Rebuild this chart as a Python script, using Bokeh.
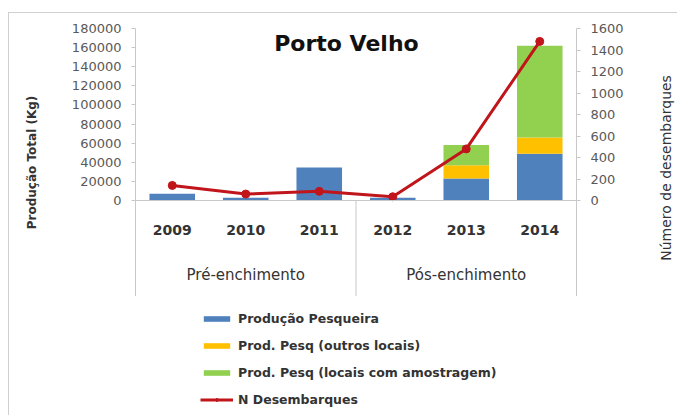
import math
from bokeh.plotting import figure
from bokeh.layouts import column, row
from bokeh.models import (FactorRange, Range1d, LinearAxis, FixedTicker, Legend, LegendItem,
                          Label, ColumnDataSource, NumeralTickFormatter)
from bokeh.core.properties import value
from bokeh.embed import file_html
from bokeh.resources import INLINE

# ---------------- data ----------------
years = ["2009", "2010", "2011", "2012", "2013", "2014"]
phases = ["Pré-enchimento", "Pré-enchimento", "Pré-enchimento",
          "Pós-enchimento", "Pós-enchimento", "Pós-enchimento"]
prod_pesqueira = [7000, 3000, 34500, 3000, 23000, 49000]
prod_outros = [0, 0, 0, 0, 14000, 17000]
prod_amostragem = [0, 0, 0, 0, 21000, 96000]
n_desembarques = [140, 60, 85, 35, 480, 1480]
left_ticks = [0, 20000, 40000, 60000, 80000, 100000, 120000, 140000, 160000, 180000]
right_ticks = [0, 200, 400, 600, 800, 1000, 1200, 1400, 1600]
series_names = ["Produção Pesqueira", "Prod. Pesq (outros locais)",
                "Prod. Pesq (locais com amostragem)", "N Desembarques"]
chart_title = "Porto Velho"
left_label = "Produção Total (Kg)"
right_label = "Número de desembarques"

# ---------------- layout constants (pixels) ----------------
W, H = 677, 415
RLAB_W = 27                       # strip holding the right-hand axis title
MAIN_W = W - RLAB_W
FR_L, FR_R, FR_T, FR_B = 135, 576, 28, 296
ZERO_Y = 200
TOP_H = FR_B
LEG_H = H - TOP_H
YMAX, NMAX = 180000, 1600
ppx_y = YMAX / (ZERO_Y - FR_T)
ppx_n = NMAX / (ZERO_Y - FR_T)
ymin = -ppx_y * (FR_B - ZERO_Y)
nmin = -ppx_n * (FR_B - ZERO_Y)

FONT = "DejaVu Sans"
GRAY = "#595959"
DARK = "#333333"
AX = "#C8C8C8"
colors = ["#4F81BD", "#FFC000", "#92D050"]
RED = "#C0151B"

factors = list(zip(phases, years))
src = ColumnDataSource(dict(x=factors, a=prod_pesqueira, b=prod_outros, c=prod_amostragem,
                            n=n_desembarques, yr=years))

p = figure(width=MAIN_W, height=TOP_H, output_backend="svg", toolbar_location=None,
           x_range=FactorRange(*factors, group_padding=0, factor_padding=0, range_padding=0),
           y_range=Range1d(ymin, YMAX), x_axis_location=None,
           min_border_left=FR_L, min_border_right=MAIN_W - FR_R, min_border_top=FR_T,
           min_border_bottom=0)
p.extra_y_ranges = {"n": Range1d(nmin, NMAX)}
p.outline_line_color = None
p.xgrid.visible = False
p.ygrid.visible = False

# ---------------- bars and line ----------------
bars = p.vbar_stack(["a", "b", "c"], x="x", width=0.62, color=colors, line_color=None,
                    source=src)
p.line(x="x", y="n", source=src, y_range_name="n", line_color=RED, line_width=3)
p.scatter(x="x", y="n", source=src, y_range_name="n", size=8, fill_color=RED,
          line_color=RED)

# category axis: year labels, group labels and group separators
p.segment(x0=[0], y0=[0], x1=[len(years)], y1=[0], line_color=AX, line_width=1)
p.text(x="x", y=0, text="yr", source=src, y_offset=29, text_align="center",
       text_baseline="middle", text_font=value(FONT), text_font_style="bold",
       text_font_size="14px", text_color=DARK)
groups = []
for ph in phases:
    if ph not in groups:
        groups.append(ph)
g_centers, g_bounds = [], []
for g in groups:
    idx = [i for i, ph in enumerate(phases) if ph == g]
    g_centers.append((idx[0] + idx[-1] + 1) / 2)
    g_bounds.append(idx[-1] + 1)
p.text(x=g_centers, y=[0] * len(groups), text=groups, y_offset=74, text_align="center",
       text_baseline="middle", text_font=value(FONT), text_font_size="15px",
       text_color=DARK)
sep = g_bounds[:-1]
p.segment(x0=sep, y0=[0] * len(sep), x1=sep, y1=[ymin] * len(sep), line_color=AX,
          line_width=1)

# ---------------- left axis ----------------
ya = p.yaxis[0]
ya.ticker = FixedTicker(ticks=left_ticks)
ya.formatter = NumeralTickFormatter(format="0")
ya.axis_label = left_label
ya.axis_label_text_font = FONT
ya.axis_label_text_font_style = "bold"
ya.axis_label_text_font_size = "12px"
ya.axis_label_text_color = DARK
ya.axis_label_standoff = 30
ya.major_label_text_font = FONT
ya.major_label_text_font_size = "13px"
ya.major_label_text_color = GRAY
ya.axis_line_color = AX
ya.major_tick_line_color = AX
ya.major_tick_in = 0
ya.major_tick_out = 4
ya.minor_tick_line_color = None
ya.major_label_standoff = 10

# ---------------- right axis ----------------
ra = LinearAxis(y_range_name="n", ticker=FixedTicker(ticks=right_ticks))
ra.major_label_text_font = FONT
ra.major_label_text_font_size = "13px"
ra.major_label_text_color = GRAY
ra.axis_line_color = AX
ra.major_tick_line_color = AX
ra.major_tick_in = 0
ra.major_tick_out = 4
ra.minor_tick_line_color = None
ra.major_label_standoff = 10
p.add_layout(ra, "right")

# ---------------- title ----------------
p.add_layout(Label(x=2.87, y=164300, text=chart_title, text_font=FONT,
                   text_font_style="bold", text_font_size="22px", text_align="center",
                   text_baseline="middle", text_color="#111111"))

# ---------------- right axis title strip ----------------
r = figure(width=RLAB_W, height=TOP_H, output_backend="svg", toolbar_location=None,
           x_range=Range1d(0, RLAB_W), y_range=Range1d(0, TOP_H),
           x_axis_location=None, y_axis_location=None, min_border=0)
r.outline_line_color = None
r.grid.visible = False
r.text(x=[665 - MAIN_W], y=[TOP_H - 154], text=[right_label], angle=math.pi / 2,
       text_align="center", text_baseline="middle", text_font=value(FONT),
       text_font_size="14px", text_color=DARK)

# ---------------- legend strip ----------------
lg = figure(width=W, height=LEG_H, output_backend="svg", toolbar_location=None,
            x_range=Range1d(0, 1), y_range=Range1d(0, 1),
            x_axis_location=None, y_axis_location=None, min_border=0)
lg.outline_line_color = None
lg.grid.visible = False
# legend proxies: one point each, placed outside the visible range
sw = [lg.vbar(x=[-5], top=[-5], width=0.5, color=c, line_color=None) for c in colors]
l_line = lg.line(x=[-5, -4], y=[-5, -5], line_color=RED, line_width=3)
l_pts = lg.scatter(x=[-5], y=[-5], size=8, fill_color=RED, line_color=RED)
legend = Legend(items=[
    LegendItem(label=series_names[0], renderers=[sw[0]]),
    LegendItem(label=series_names[1], renderers=[sw[1]]),
    LegendItem(label=series_names[2], renderers=[sw[2]]),
    LegendItem(label=series_names[3], renderers=[l_line, l_pts]),
], location=(200, 6), orientation="vertical")
legend.label_text_font = FONT
legend.label_text_font_style = "bold"
legend.label_text_font_size = "12.5px"
legend.label_text_color = DARK
legend.glyph_width = 33
legend.glyph_height = 7
legend.label_height = 20
legend.spacing = 7
legend.padding = 0
legend.margin = 0
legend.label_standoff = 5
legend.border_line_color = None
legend.background_fill_alpha = 0
lg.add_layout(legend, "center")

layout = column(row(p, r, spacing=0), lg, spacing=0)

html = file_html(layout, INLINE)
frame_css = ('<div style="position:absolute;left:8px;top:12px;width:668px;height:402px;'
             'border-left:1px solid #D0D0D0;border-top:1px solid #D0D0D0;'
             'pointer-events:none;"></div>')
html = html.replace("</body>", frame_css + "</body>", 1)
out = open("out.html", "w")
out.write(html)
out.close()
